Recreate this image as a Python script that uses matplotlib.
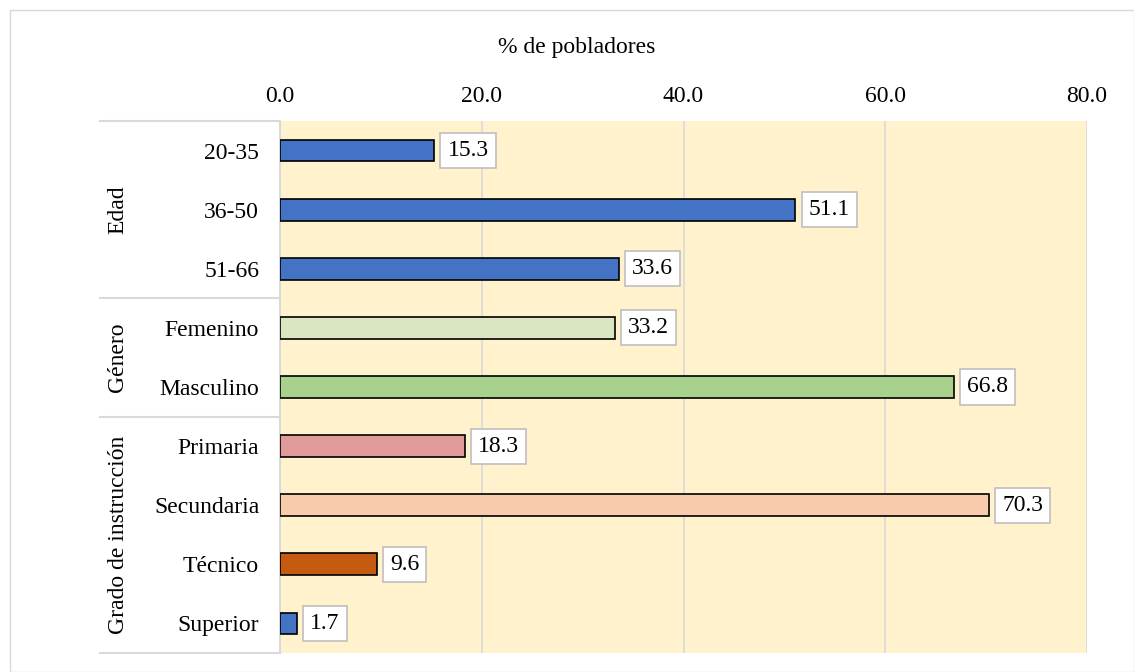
import matplotlib.pyplot as plt
from matplotlib.patches import Rectangle
from matplotlib.lines import Line2D

plt.rcParams['font.family'] = ['Liberation Serif', 'DejaVu Serif']

# datos
categorias = ['20-35', '36-50', '51-66', 'Femenino', 'Masculino',
              'Primaria', 'Secundaria', 'Técnico', 'Superior']
valores = [15.3, 51.1, 33.6, 33.2, 66.8, 18.3, 70.3, 9.6, 1.7]
colores = ['#4472C4', '#4472C4', '#4472C4', '#D9E6C1', '#A9D18E',
           '#E09A9A', '#F8CBAD', '#C55A11', '#4472C4']
grupos = ['Edad', 'Género', 'Grado de instrucción']
grupo_tam = [3, 2, 4]

fs = 17

fig = plt.figure(figsize=(11.34, 6.72), dpi=100)
ax = fig.add_axes([280/1134, 1 - 653/672, (1087 - 280)/1134, (653 - 121)/672])
ax.set_facecolor('#FFF2CC')

y = list(range(len(categorias)))
ax.barh(y, valores, height=0.37, color=colores, edgecolor='black', linewidth=1.2, zorder=3)
for yi, v in zip(y, valores):
    ax.text(v + 1.3, yi, f'{v:.1f}', va='center', ha='left', fontsize=fs, zorder=4,
            bbox=dict(boxstyle='square,pad=0.3', fc='white', ec='#BFBFBF', lw=1.2))

ax.set_xlim(0, 80)
ax.set_ylim(len(categorias) - 0.5, -0.5)
ax.set_xticks([0, 20, 40, 60, 80])
ax.set_xticklabels([f'{t:.1f}' for t in [0, 20, 40, 60, 80]], fontsize=fs)
ax.xaxis.tick_top()
ax.xaxis.set_label_position('top')
ax.set_xlabel('% de pobladores', fontsize=fs)
ax.xaxis.set_label_coords((577 - 280) / (1087 - 280), 1 + (121 - 48) / (653 - 121))
ax.xaxis.label.set_va('center')
ax.tick_params(axis='x', length=0, pad=10)
ax.set_yticks(y)
ax.set_yticklabels(categorias, fontsize=fs)
ax.tick_params(axis='y', length=0, pad=15)
ax.grid(axis='x', color='#D9D9D9', linewidth=1.2, zorder=0)
for s in ['top', 'bottom']:
    ax.spines[s].set_visible(False)
ax.spines['right'].set_visible(False)
ax.spines['left'].set_color('#D9D9D9')
ax.spines['left'].set_linewidth(1.5)

# separadores y nombres de grupo
trans = ax.get_yaxis_transform()
x0 = (100 - 280) / (1087 - 280)
inicio = -0.5
for nombre, n in zip(grupos, grupo_tam):
    fin = inicio + n
    ax.add_line(Line2D([x0, 0], [inicio, inicio], transform=trans, color='#D9D9D9',
                       lw=1.5, clip_on=False))
    ax.text((118 - 280) / (1087 - 280), (inicio + fin) / 2, nombre, transform=trans,
            rotation=90, va='center', ha='center', fontsize=fs)
    inicio = fin
ax.add_line(Line2D([x0, 0], [inicio, inicio], transform=trans, color='#D9D9D9',
                   lw=1.5, clip_on=False))

# borde exterior
fig.patches.append(Rectangle((10/1134, 0), 1 - 10/1134, 1 - 10/672, transform=fig.transFigure,
                             fill=False, ec='#D9D9D9', lw=1))

fig.savefig('out.png', dpi=100)
